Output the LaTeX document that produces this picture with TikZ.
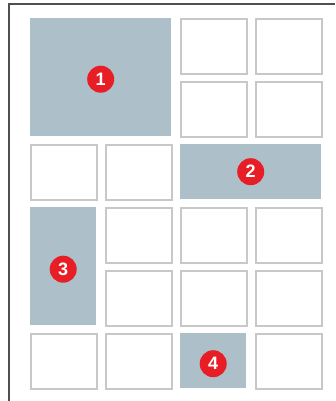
\documentclass[tikz,border=0pt]{standalone}
\usepackage{fontspec}
\setsansfont{Liberation Sans}
\usepackage{tikz}
\usetikzlibrary{positioning,calc}
\definecolor{slotgray}{RGB}{200,200,200}
\definecolor{blockgray}{RGB}{173,191,200}
\definecolor{badgered}{RGB}{232,30,38}
\definecolor{framegray}{RGB}{80,80,80}

\tikzset{
  cell/.style={draw=slotgray,line width=1.6pt,fill=white,anchor=north west,
    minimum width=66pt,minimum height=55pt,inner sep=0pt},
  block/.style={fill=blockgray,anchor=north west,inner sep=0pt},
  badge/.style={circle,fill=badgered,text=white,minimum size=27pt,inner sep=0pt,
    font=\sffamily\bfseries\fontsize{18}{18}\selectfont}
}

\begin{document}
\begin{tikzpicture}[x=1pt,y=-1pt]
  \useasboundingbox (0,0) rectangle (335,401);
  % frame
  \draw[framegray,line width=1.6pt] (9,401) -- (9,4) -- (335,4);
  % empty slots
  \foreach \r/\c in {1/3,1/4,2/3,2/4,3/1,3/2,4/2,4/3,4/4,5/2,5/3,5/4,6/1,6/2,6/4}
    \node[cell] (c\r\c) at ({30+75*(\c-1)},{18+63*(\r-1)}) {};
  % filled areas
  \node[block,minimum width=141pt,minimum height=118pt] (b1) at (30,18) {};
  \node[block,minimum width=141pt,minimum height=55pt] (b2) at (180,144) {};
  \node[block,minimum width=66pt,minimum height=118pt] (b3) at (30,207) {};
  \node[block,minimum width=66pt,minimum height=55pt] (b4) at (180,333) {};
  % numbers
  \node[badge] (n1) at ([yshift=-2pt]b1.center) {1};
  \node[badge] (n2) at (b2.center) {2};
  \node[badge] (n3) at ([yshift=-3pt]b3.center) {3};
  \node[badge] (n4) at ([yshift=-3pt]b4.center) {4};
\end{tikzpicture}
\end{document}
